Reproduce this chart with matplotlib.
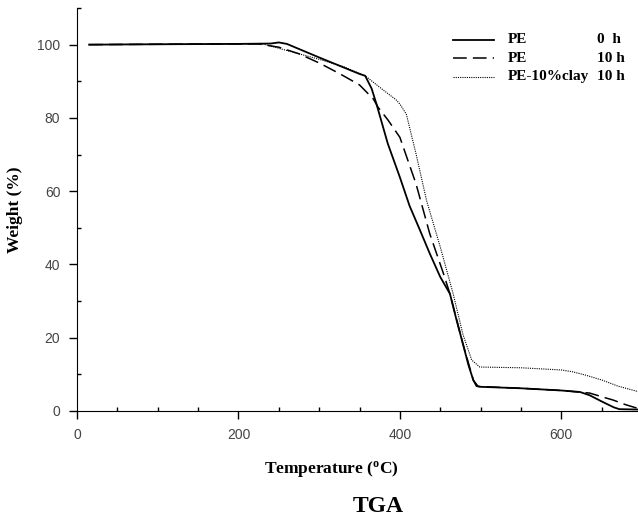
import matplotlib
matplotlib.use('Agg')
import matplotlib.pyplot as plt
from matplotlib.ticker import MultipleLocator

plt.rcParams['mathtext.fontset'] = 'custom'
plt.rcParams['mathtext.rm'] = 'Liberation Serif:bold'
plt.rcParams['mathtext.bf'] = 'Liberation Serif:bold'

# PE 0 h
t_pe0 = [15, 100, 200, 240, 250, 260, 300, 330, 350, 357, 365, 371, 385, 400, 412, 425, 437, 450,
         462, 470, 478, 485, 491, 495, 500, 550, 600, 623, 635, 651, 665, 672, 695]
w_pe0 = [100, 100.1, 100.2, 100.3, 100.6, 100.2, 96.5, 93.8, 92, 91.5, 88, 83.8, 73, 63.8, 56, 49.3,
         43, 36.6, 32, 25, 18.4, 12.5, 8.4, 6.8, 6.6, 6.2, 5.6, 5.2, 4.3, 2.5, 1.0, 0.5, 0.4]

# PE 10 h
t_pe10 = [15, 100, 200, 225, 250, 275, 300, 326, 350, 367, 373, 385, 400, 420, 437, 454, 462, 478,
          491, 497, 550, 600, 635, 650, 664, 680, 695]
w_pe10 = [100, 100.1, 100.2, 100.2, 99.3, 97.5, 95, 92, 89, 85.2, 82.9, 79.5, 74.7, 62, 48.4, 37.5,
          32, 18.4, 8.4, 6.7, 6.2, 5.6, 4.9, 3.9, 3.0, 1.7, 0.7]

# PE-10%clay 10 h
t_clay = [15, 100, 200, 230, 250, 275, 300, 330, 357, 380, 395, 400, 408, 420, 433, 450, 466, 478,
          489, 499, 550, 600, 614, 630, 651, 670, 695]
w_clay = [100, 100.1, 100.2, 100.2, 99.0, 97.5, 96, 94, 91.5, 87.5, 85, 83.8, 81, 70.2, 57.5, 44.8,
          32, 21, 13.9, 12, 11.8, 11.2, 10.7, 9.8, 8.4, 6.8, 5.3]

fig = plt.figure(figsize=(6.38, 5.32), dpi=100)
ax = fig.add_axes([77 / 638, 121 / 532, 561 / 638, 403 / 532])

ax.plot(t_pe0, w_pe0, color='black', lw=1.3, ls='-')
ax.plot(t_pe10, w_pe10, color='black', lw=1.1, ls=(0, (9, 4)))
ax.plot(t_clay, w_clay, color='black', lw=0.8, ls=(0, (1, 1)))

ax.set_xlim(0, 695)
ax.set_ylim(0, 110)
ax.spines['top'].set_visible(False)
ax.spines['right'].set_visible(False)

ax.xaxis.set_major_locator(MultipleLocator(200))
ax.xaxis.set_minor_locator(MultipleLocator(50))
ax.yaxis.set_major_locator(MultipleLocator(20))
ax.yaxis.set_minor_locator(MultipleLocator(10))
ax.tick_params(which='major', direction='out', length=6, width=1, labelsize=10,
               labelcolor='#444444', pad=6)
ax.tick_params(which='minor', direction='in', length=3, width=1)
for lab in ax.get_xticklabels() + ax.get_yticklabels():
    lab.set_family('Liberation Sans')

ax.set_xlabel('Temperature ($\\mathregular{^o}$C)', family='Liberation Serif', fontweight='bold',
              fontsize=12.5)
ax.xaxis.set_label_coords((331 - 77) / 561, -48 / 403)
ax.set_ylabel('Weight (%)', family='Liberation Serif', fontweight='bold', fontsize=12.5, labelpad=10)

fig.text(378 / 638, 1 - 507 / 532, 'TGA', family='Liberation Serif', fontweight='bold', fontsize=17,
         ha='center', va='center')

# legend drawn by hand in axes coords
rows = [('PE', '0  h', dict(lw=1.3, ls='-')),
        ('PE', '10 h', dict(lw=1.1, ls=(0, (9, 4)))),
        ('PE-10%clay', '10 h', dict(lw=0.8, ls=(0, (1, 1))))]
for i, (name, hrs, st) in enumerate(rows):
    y = 1 - (40 + 18.5 * i - 8) / 403
    ax.plot([(453 - 77) / 561, (494 - 77) / 561], [y, y], color='black', transform=ax.transAxes,
            clip_on=False, **st)
    ax.text((508 - 77) / 561, y, name, transform=ax.transAxes, va='center', ha='left',
            family='Liberation Serif', fontweight='bold', fontsize=11)
    ax.text((597 - 77) / 561, y, hrs, transform=ax.transAxes, va='center', ha='left',
            family='Liberation Serif', fontweight='bold', fontsize=11)

fig.savefig('out.png', dpi=100)
